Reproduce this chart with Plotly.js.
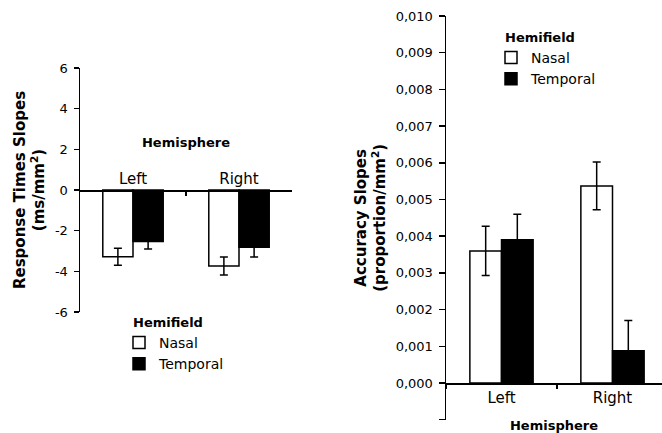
<!DOCTYPE html>
<html>
<head>
<meta charset="utf-8">
<script src="https://cdn.plot.ly/plotly-3.0.1.min.js"></script>
<style>html,body{margin:0;padding:0;background:#fff;}#chart{width:662px;height:433px;}</style>
</head>
<body>
<div id="chart"></div>
<script>
const categories = ['Left', 'Right'];
const seriesNames = ['Nasal', 'Temporal'];

// Response times slopes (ms/mm²)
const rtNasal = [-3.28, -3.74];
const rtNasalErr = [0.42, 0.44];
const rtTemporal = [-2.53, -2.82];
const rtTemporalErr = [0.37, 0.47];

// Accuracy slopes (proportion/mm²)
const accNasal = [0.0036, 0.00537];
const accNasalErr = [0.00067, 0.00065];
const accTemporal = [0.0039, 0.00088];
const accTemporalErr = [0.0007, 0.00082];

const rtTickVals = [-6, -4, -2, 0, 2, 4, 6];
const rtTickText = ['-6', '-4', '-2', '0', '2', '4', '6'];
const accTickVals = [-0.001, 0, 0.001, 0.002, 0.003, 0.004, 0.005, 0.006, 0.007, 0.008, 0.009, 0.010];
const accTickText = ['', '0,000', '0,001', '0,002', '0,003', '0,004', '0,005', '0,006', '0,007', '0,008', '0,009', '0,010'];

const FONT = 'DejaVu Sans, Verdana, sans-serif';
const fills = ['#ffffff', '#000000'];

function barTrace(name, y, err, fill, xa, ya, legend) {
  return {
    type: 'bar', name: name, x: categories, y: y,
    xaxis: xa, yaxis: ya, legend: legend,
    marker: {color: fill, line: {color: '#000', width: 1.5}},
    error_y: {type: 'data', array: err, visible: true, color: '#000', thickness: 1.5, width: 4},
    hoverinfo: 'none'
  };
}

const data = [
  barTrace(seriesNames[0], rtNasal, rtNasalErr, fills[0], 'x', 'y', 'legend'),
  barTrace(seriesNames[1], rtTemporal, rtTemporalErr, fills[1], 'x', 'y', 'legend'),
  barTrace(seriesNames[0], accNasal, accNasalErr, fills[0], 'x2', 'y2', 'legend2'),
  barTrace(seriesNames[1], accTemporal, accTemporalErr, fills[1], 'x2', 'y2', 'legend2')
];

const W = 662, H = 433;
const axisCommon = {showgrid: false, zeroline: false, showline: true, linecolor: '#000', linewidth: 1.5, tickcolor: '#000', tickwidth: 1.5, fixedrange: true};

function legendCfg(x, y) {
  return {
    x: x, y: y, xanchor: 'left', yanchor: 'top',
    bgcolor: 'rgba(0,0,0,0)', borderwidth: 0, itemwidth: 30, tracegroupgap: 0,
    indentation: -12,
    font: {size: 14}, title: {text: 'Hemifield', font: {size: 13, weight: 'bold'}, side: 'top'},
    itemclick: false, itemdoubleclick: false
  };
}

const layout = {
  width: W, height: H,
  margin: {l: 0, r: 0, t: 0, b: 0},
  paper_bgcolor: '#fff', plot_bgcolor: 'rgba(0,0,0,0)',
  font: {family: FONT, color: '#000', size: 13},
  barmode: 'group', bargap: 0.43, bargroupgap: 0,
  showlegend: true,
  xaxis: Object.assign({}, axisCommon, {
    type: 'category', domain: [80 / W, 292 / W], range: [-0.5, 1.5],
    anchor: 'free', position: 1 - 190 / H, side: 'top',
    ticks: 'inside', ticklen: 4, tickson: 'boundaries',
    tickfont: {size: 15},
    title: {text: 'Hemisphere', font: {size: 13, weight: 'bold'}, standoff: 18}
  }),
  yaxis: Object.assign({}, axisCommon, {
    domain: [1 - 312 / H, 1 - 68 / H], range: [-6, 6], anchor: 'x',
    tickvals: rtTickVals, ticktext: rtTickText, ticks: 'outside', ticklen: 5,
    ticklabelstandoff: 3,
    tickfont: {size: 13},
    title: {text: 'Response Times Slopes<br>(ms/mm<sup>2</sup>)', font: {size: 15, weight: 'bold'}, standoff: 6}
  }),
  xaxis2: Object.assign({}, axisCommon, {
    type: 'category', domain: [446 / W, 1], range: [-0.5, 1.446],
    anchor: 'free', position: 1 - 383 / H, side: 'bottom',
    ticks: 'outside', ticklen: 4, tickson: 'boundaries',
    tickfont: {size: 15},
    title: {text: 'Hemisphere', font: {size: 13, weight: 'bold'}, standoff: 15}
  }),
  yaxis2: Object.assign({}, axisCommon, {
    domain: [1 - 419.7 / H, 1 - 16 / H], range: [-0.001, 0.010], anchor: 'x2',
    tickvals: accTickVals, ticktext: accTickText, ticks: 'outside', ticklen: 6,
    ticklabelstandoff: 3,
    tickfont: {size: 13},
    title: {text: 'Accuracy Slopes<br>(proportion/mm<sup>2</sup>)', font: {size: 15, weight: 'bold'}, standoff: 6}
  }),
  legend: legendCfg(131 / W, 1 - 310 / H),
  legend2: legendCfg(503 / W, 1 - 25 / H)
};

Plotly.newPlot('chart', data, layout, {staticPlot: true, displayModeBar: false});
</script>
</body>
</html>
